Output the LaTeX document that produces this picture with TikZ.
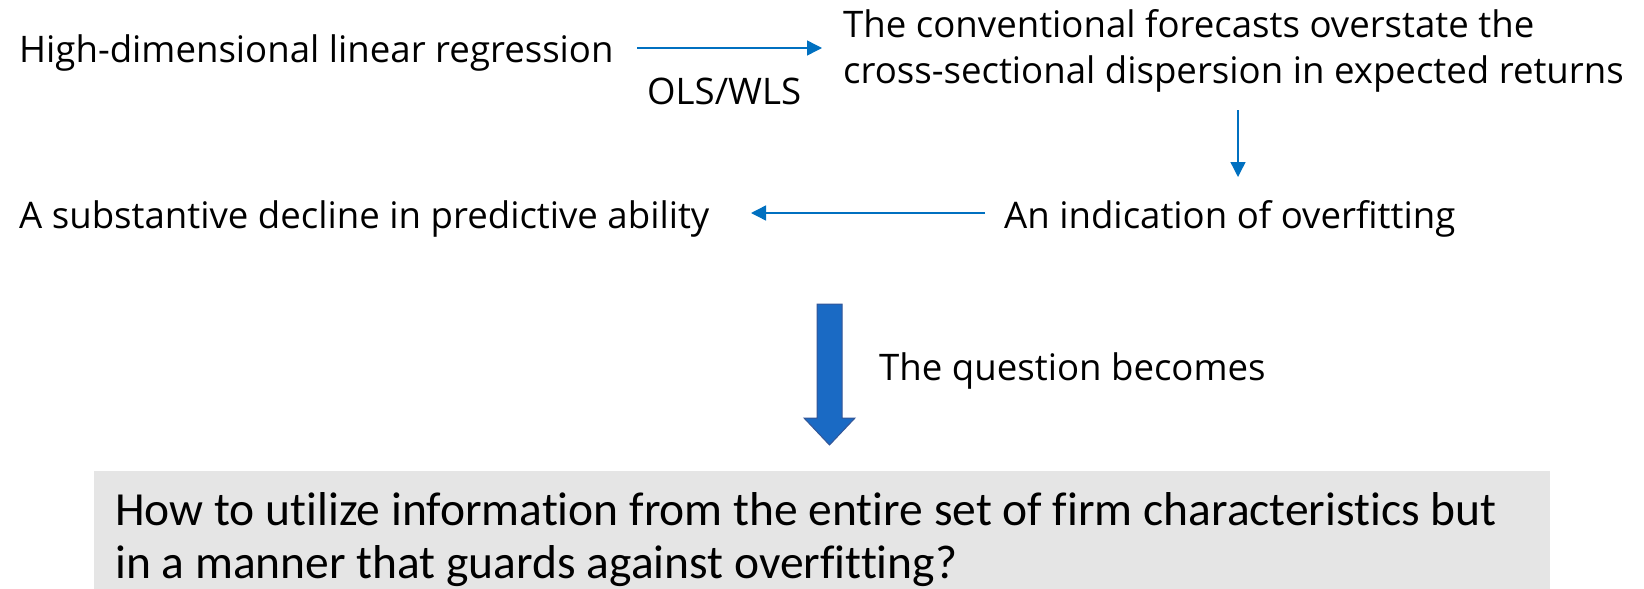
\documentclass[tikz,border=0pt]{standalone}
\usepackage{fontspec}
\setmainfont[Ligatures={NoCommon}]{Open Sans}
\newfontfamily\boxfont[Ligatures={NoCommon,NoRequired,NoContextual}]{Carlito}
\usetikzlibrary{arrows.meta}
\definecolor{arrblue}{RGB}{0,112,192}
\definecolor{bigfill}{RGB}{26,106,196}
\definecolor{bigdraw}{RGB}{52,86,150}
\definecolor{boxgray}{RGB}{229,229,229}
\tikzset{
  lbl/.style={anchor=base west, inner sep=0pt, font=\fontsize{36.6}{44}\selectfont},
  boxtxt/.style={anchor=base west, inner sep=0pt, font=\boxfont\fontsize{47.5}{53}\selectfont},
  arr/.style={draw=arrblue, line width=1.4pt, -{Triangle[length=15pt,width=15pt]}},
}
\begin{document}
\begin{tikzpicture}[x=1pt,y=-1pt]
\useasboundingbox (0,0) rectangle (1644,589);
% text nodes
\node[lbl] (hd) at (19,62) {High-dimensional linear regression};
\node[lbl] (ols) at (647,104) {OLS/WLS};
\node[lbl] (cf1) at (843,37) {The conventional forecasts overstate the};
\node[lbl] (cf2) at (843,83) {cross-sectional dispersion in expected returns};
\node[lbl] (ind) at (1004,228) {An indication of overfitting};
\node[lbl] (dec) at (19,228) {A substantive decline in predictive ability};
\node[lbl] (qb) at (879,380) {The question becomes};
% connectors
\coordinate (a1s) at (637,48);
\coordinate (a1e) at (822,48);
\coordinate (a2s) at (1238,110);
\coordinate (a2e) at (1238,177);
\coordinate (a3s) at (985,213);
\coordinate (a3e) at (751,213);
\draw[arr] (a1s) -- (a1e);
\draw[arr] (a2s) -- (a2e);
\draw[arr] (a3s) -- (a3e);
% big arrow
\draw[fill=bigfill, draw=bigdraw, line width=1pt, line join=miter]
  (817,304) -- (842,304) -- (842,418) -- (855,418) -- (829.5,445)
  -- (804,418) -- (817,418) -- cycle;
% question box
\fill[boxgray] (94,471) rectangle (1550,600);
\node[boxtxt] (q1) at (115,525) {How to utilize information from the entire set of firm characteristics but};
\node[boxtxt] (q2) at (115,578) {in a manner that guards against overfitting?};
\end{tikzpicture}
\end{document}
